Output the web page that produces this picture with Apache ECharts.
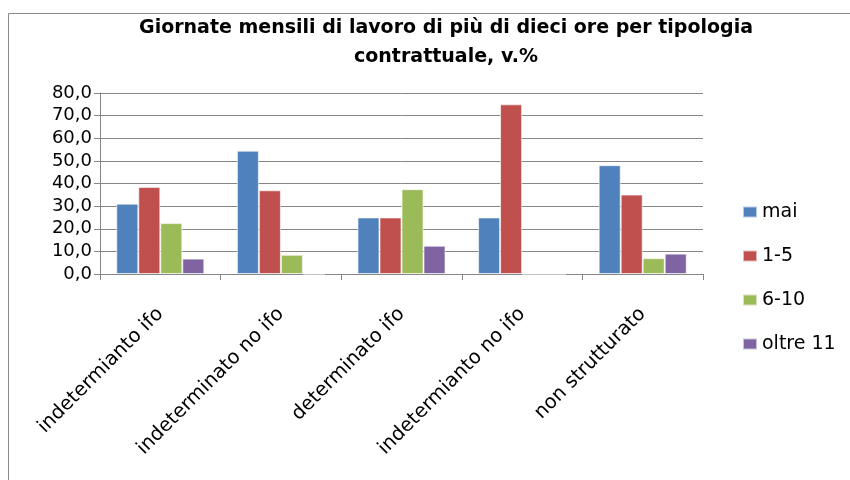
<!DOCTYPE html>
<html>
<head>
<meta charset="utf-8">
<script src="https://cdn.jsdelivr.net/npm/echarts@6/dist/echarts.min.js"></script>
<style>
  html, body { margin: 0; padding: 0; background: #fff; }
  #chart { width: 850px; height: 480px; }
</style>
</head>
<body>
<div id="chart"></div>
<script>
  // categorie e serie
  const categories = [
    "indetermianto ifo",
    "indeterminato no ifo",
    "determinato ifo",
    "indetermianto no ifo",
    "non strutturato"
  ];
  const mai = [31.1, 54.5, 25.0, 25.0, 48.1];
  const da1a5 = [38.5, 37.0, 25.0, 75.0, 35.1];
  const da6a10 = [22.5, 8.5, 37.5, 0, 7.0];
  const oltre11 = [6.8, 0, 12.5, 0, 9.0];
  const seriesNames = ["mai", "1-5", "6-10", "oltre 11"];
  const colors = ["#4F81BD", "#C0504D", "#9BBB59", "#8064A2"];

  const font = "'DejaVu Sans', sans-serif";
  const values = [mai, da1a5, da6a10, oltre11];

  const option = {
    color: colors,
    textStyle: { fontFamily: font },
    title: {
      text: "Giornate mensili di lavoro di più di dieci ore per tipologia\ncontrattuale, v.%",
      left: 441,
      textAlign: "center",
      top: 9,
      textStyle: { fontFamily: font, fontSize: 19, fontWeight: "bold", color: "#000", lineHeight: 29 }
    },
    legend: {
      orient: "vertical",
      left: 737,
      top: 197,
      itemWidth: 14,
      itemHeight: 11,
      itemGap: 24,
      icon: "rect",
      textStyle: { fontFamily: font, fontSize: 19, lineHeight: 20, color: "#000" },
      data: seriesNames
    },
    grid: { left: 100, right: 147, top: 93, bottom: 206 },
    xAxis: {
      type: "category",
      data: categories,
      axisLine: { lineStyle: { color: "#868686", width: 1 } },
      axisTick: { show: true, length: 6, lineStyle: { color: "#868686" } },
      axisLabel: { rotate: 45, margin: 37, fontSize: 19.5, color: "#000", fontFamily: font, interval: 0 }
    },
    yAxis: {
      type: "value",
      min: 0,
      max: 80,
      interval: 10,
      axisLine: { show: true, lineStyle: { color: "#868686", width: 1 } },
      axisTick: { show: true, length: 6, lineStyle: { color: "#868686" } },
      splitLine: { lineStyle: { color: "#868686", width: 1 } },
      axisLabel: {
        fontSize: 18, color: "#000", fontFamily: font, margin: 8,
        formatter: v => v.toFixed(1).replace(".", ",")
      }
    },
    graphic: [{
      type: "rect",
      shape: { x: 8.5, y: 13.5, width: 900, height: 500 },
      style: { fill: "none", stroke: "#8a8a8a", lineWidth: 1 },
      silent: true
    }],
    series: seriesNames.map((name, i) => ({
      name: name,
      type: "bar",
      data: values[i],
      barGap: "0%",
      barCategoryGap: "27%",
      itemStyle: { borderColor: "rgba(255,255,255,0.6)", borderWidth: 1 }
    }))
  };

  const myChart = echarts.init(document.getElementById("chart"));
  myChart.setOption(option);
</script>
</body>
</html>
